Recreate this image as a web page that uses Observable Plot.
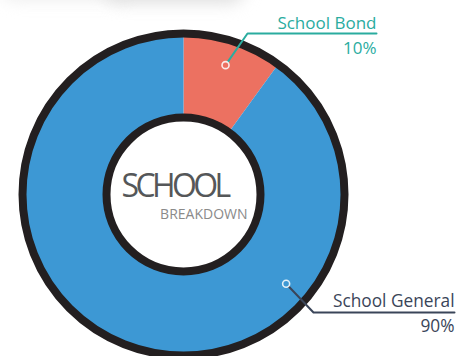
<!DOCTYPE html>
<html>
<head>
<meta charset="utf-8">
<script src="https://cdn.jsdelivr.net/npm/d3@7"></script>
<script src="https://cdn.jsdelivr.net/npm/@observablehq/plot@0.6"></script>
<style>
  html, body { margin: 0; padding: 0; background: #fff; }
  #chart svg { display: block; }
  .shadow { filter: blur(8px); }
  .title-big text { letter-spacing: -3.6px; }
</style>
</head>
<body>
<div id="chart"></div>
<script>
// ---- data ----
const categories = ["School Bond", "School General"];
const values = [10, 90];
const percentLabels = ["10%", "90%"];
const sliceColors = ["#EC7161", "#3D98D4"];
const labelColors = ["#2AAC9F", "#3A4559"];
const centerTitle = "SCHOOL";
const centerSubtitle = "BREAKDOWN";

// ---- layout ----
const W = 458, H = 356;
const cx = 183, cy = 194;
const rInner = 74, rOuter = 162;
const ringOuter = 161, ringInner = 77, ringWidth = 8;
const markerR = 136;
const markerAngles = [null, 131]; // degrees clockwise from 12 o'clock; null = slice middle
const labelLayout = [
  {elbow: [247, 33], end: 376, nameY: 28, pctY: 53, size: 17},
  {elbow: [313, 312], end: 454, nameY: 306, pctY: 331, size: 17.3}
];

const pie = d3.pie().sort(null).value(d => d)(values);
const polar = (r, a) => [cx + r * Math.sin(a), cy - r * Math.cos(a)];

// wedge outlines built from the pie angles
const wedgePts = [];
pie.forEach((p, i) => {
  const n = Math.max(8, Math.ceil((p.endAngle - p.startAngle) / 0.01));
  const outer = [], inner = [];
  for (let k = 0; k <= n; k++) {
    const a = p.startAngle + (p.endAngle - p.startAngle) * k / n;
    outer.push(polar(rOuter, a));
    inner.push(polar(rInner, a));
  }
  inner.reverse();
  [...outer, ...inner].forEach(([x, y]) => wedgePts.push({cat: categories[i], color: sliceColors[i], x, y}));
});

// markers & leader lines
const markers = pie.map((p, i) => {
  const a = markerAngles[i] == null ? (p.startAngle + p.endAngle) / 2 : markerAngles[i] * Math.PI / 180;
  const [x, y] = polar(markerR, a);
  return {x, y, color: sliceColors[i], lc: labelColors[i]};
});
const leaders = [];
markers.forEach((m, i) => {
  const L = labelLayout[i];
  leaders.push({cat: categories[i], color: labelColors[i], x: m.x, y: m.y});
  leaders.push({cat: categories[i], color: labelColors[i], x: L.elbow[0], y: L.elbow[1]});
  leaders.push({cat: categories[i], color: labelColors[i], x: L.end, y: L.elbow[1]});
});
const labels = categories.map((c, i) => ({name: c, pct: percentLabels[i], color: labelColors[i], ...labelLayout[i]}));

const font = "'Open Sans', 'Noto Sans', sans-serif";

const plot = Plot.plot({
  width: W, height: H,
  margin: 0,
  x: {domain: [0, W], range: [0, W], axis: null},
  y: {domain: [0, H], range: [0, H], axis: null},
  style: {fontFamily: font, background: "#fff"},
  marks: [
    // soft shadow at the top
    Plot.rect([{x1: 0, x2: 130, y1: -30, y2: 0}], {x1: "x1", x2: "x2", y1: "y1", y2: "y2", fill: "#ececec", rx: 15, className: "shadow"}),
    Plot.rect([{x1: 105, x2: 245, y1: -30, y2: 3}], {x1: "x1", x2: "x2", y1: "y1", y2: "y2", fill: "#dedede", rx: 15, className: "shadow"}),
    // slices
    Plot.line(wedgePts, {x: "x", y: "y", z: "cat", fill: "color", stroke: "none", curve: "linear"}),
    // rings
    Plot.dot([{x: cx, y: cy}], {x: "x", y: "y", r: ringOuter, stroke: "#231F20", strokeWidth: ringWidth, fill: "none"}),
    Plot.dot([{x: cx, y: cy}], {x: "x", y: "y", r: ringInner, stroke: "#231F20", strokeWidth: ringWidth, fill: "#fff"}),
    // leader lines
    Plot.line(leaders, {x: "x", y: "y", z: "cat", stroke: "color", strokeWidth: 2}),
    // markers
    Plot.dot(markers, {x: "x", y: "y", r: 3.5, fill: "color", stroke: "#fff", strokeWidth: 1.6, strokeOpacity: 0.85}),
    // labels
    Plot.text(labels, {x: "end", y: "nameY", text: "name", fill: "color", textAnchor: "end", lineAnchor: "bottom", fontSize: d => d.size}),
    Plot.text(labels, {x: "end", y: "pctY", text: "pct", fill: "color", textAnchor: "end", lineAnchor: "bottom", fontSize: d => d.size}),
    // center text
    Plot.text([centerTitle], {x: () => 121, y: () => 196, text: d => d, textAnchor: "start", lineAnchor: "bottom", fontSize: 32, fill: "#555759", className: "title-big"}),
    Plot.text([centerSubtitle], {x: () => 247, y: () => 218, text: d => d, textAnchor: "end", lineAnchor: "bottom", fontSize: 14, fill: "#8a8a8a"})
  ]
});
document.getElementById("chart").appendChild(plot);
</script>
</body>
</html>
